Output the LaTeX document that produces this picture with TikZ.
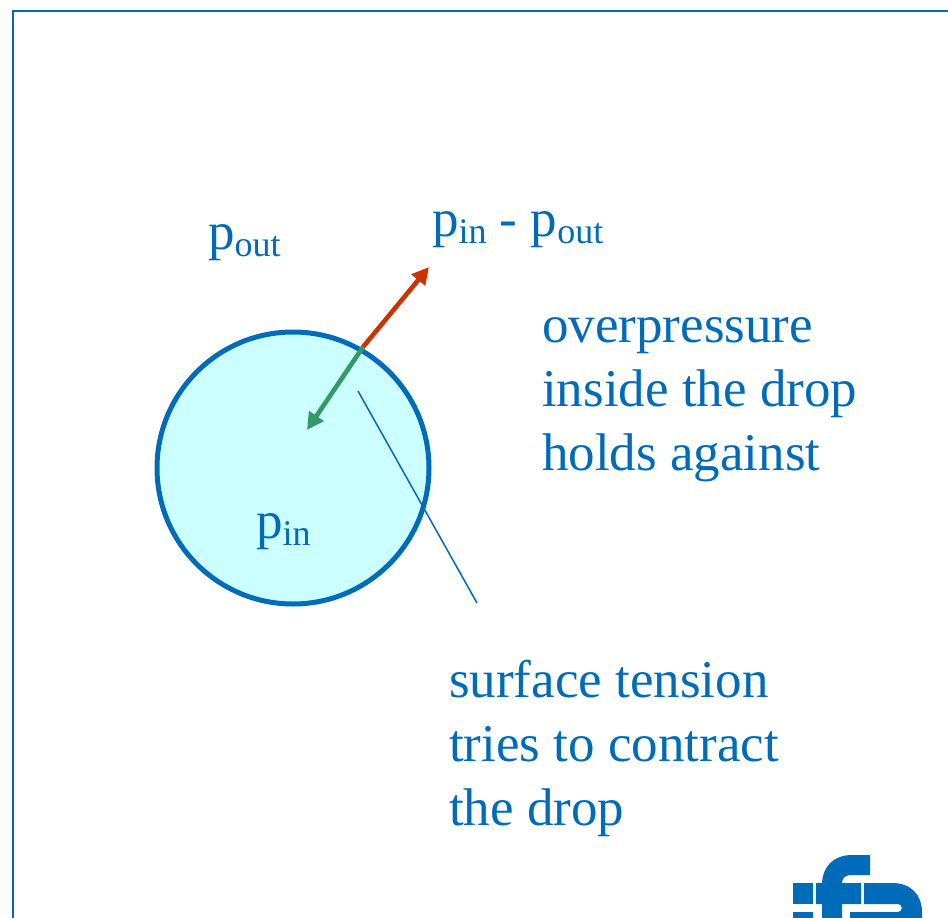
\documentclass[tikz,border=0pt]{standalone}
\usepackage{fontspec}
\setmainfont{Liberation Serif}
\usetikzlibrary{arrows.meta}
\definecolor{ifablue}{RGB}{0,107,184}
\definecolor{dropfill}{RGB}{204,255,255}
\definecolor{redarrow}{RGB}{204,51,0}
\definecolor{greenarrow}{RGB}{51,153,102}
\tikzset{
  lbl/.style={text=ifablue,inner sep=0pt,anchor=base west,font=\fontsize{53}{64}\selectfont},
  para/.style={lbl,align=left},
  force/.style={line width=4.6pt,-{Triangle[length=17pt,width=17pt]}}
}
\newcommand{\lowtxt}[1]{\raisebox{-7pt}{\fontsize{36}{36}\selectfont #1}}
\begin{document}
\begin{tikzpicture}[x=1pt,y=-1pt]
\useasboundingbox (0,0) rectangle (948,918);
\clip (0,0) rectangle (948,918);
\draw[ifablue,line width=2pt] (13,930) -- (13,11) -- (960,11);
\node[circle,draw=ifablue,fill=dropfill,line width=5pt,minimum size=272pt,inner sep=0pt] (drop) at (293,468) {};
\coordinate (surf) at (363,347);
\coordinate (tipout) at (429,267);
\coordinate (tipin) at (307,430);
\coordinate (leadA) at (358,391);
\coordinate (leadB) at (477,603);
\draw[ifablue,line width=1.5pt] (leadA) -- (leadB);
\draw[force,draw=redarrow,fill=redarrow,color=redarrow] (surf) -- (tipout);
\draw[force,draw=greenarrow,fill=greenarrow,color=greenarrow] (surf) -- (tipin);
\node[lbl] (pout) at (208,249) {p\lowtxt{out}};
\node[lbl] (pdiff) at (432,236) {p\lowtxt{in} - p\lowtxt{out}};
\node[lbl] (pin) at (256,538) {p\lowtxt{in}};
\node[lbl] (over1) at (542,342) {overpressure};
\node[lbl] (over2) at (542,406) {inside the drop};
\node[lbl] (over3) at (542,470) {holds against};
\node[lbl] (surf1) at (449,697) {surface tension};
\node[lbl] (surf2) at (449,761) {tries to contract};
\node[lbl] (surf3) at (449,825) {the drop};
% logo
\fill[ifablue] (793,883) rectangle (813,904);
\fill[ifablue] (793,912) rectangle (813,920);
\fill[ifablue] (816,883) -- (822,883) .. controls (823,866) and (834,855) .. (852,855) -- (870,855) -- (870,875) -- (852,875) .. controls (845,875) and (842,878) .. (842,883) -- (861,883) -- (861,904) -- (842,904) -- (842,920) -- (822,920) -- (822,904) -- (816,904) -- cycle;
\fill[ifablue] (864,883) -- (892,883) .. controls (912,883) and (922,896) .. (922,912) -- (922,920) -- (850,920) -- (850,912) -- (898,912) .. controls (903,912) and (903,904) .. (898,904) -- (864,904) -- cycle;
\end{tikzpicture}
\end{document}
